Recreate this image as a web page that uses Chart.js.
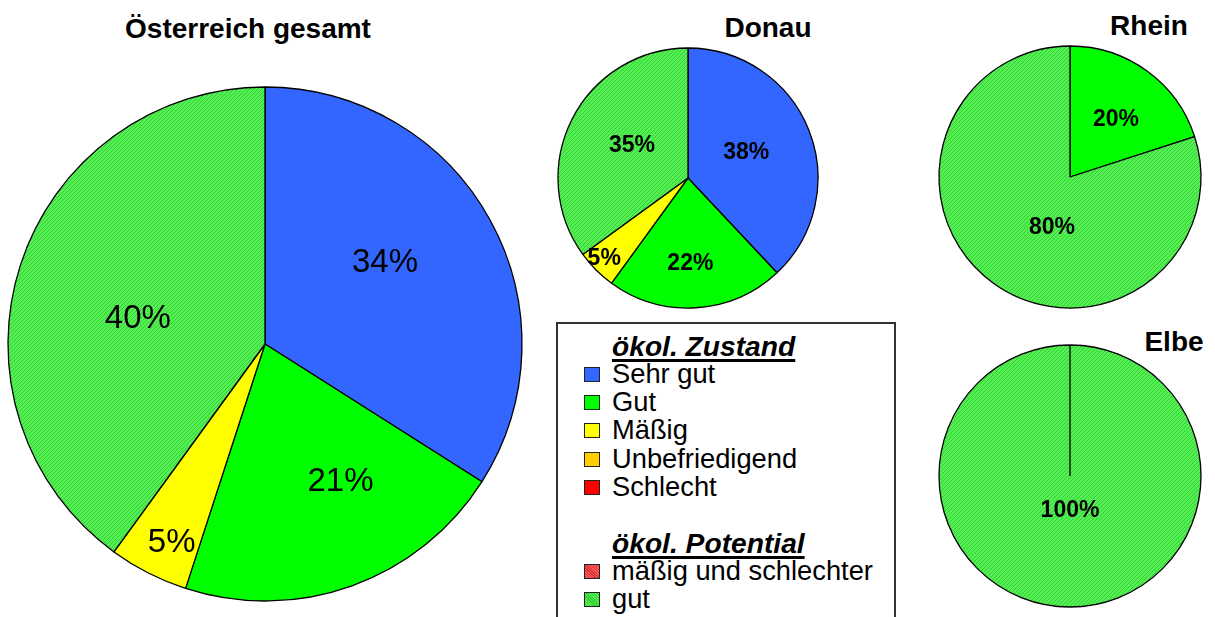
<!DOCTYPE html>
<html><head><meta charset="utf-8">
<script src="https://cdn.jsdelivr.net/npm/chart.js@4/dist/chart.umd.min.js"></script>
<style>
html,body{margin:0;padding:0;background:#fff;width:1215px;height:617px;overflow:hidden;font-family:"Liberation Sans",Arial,sans-serif;}
canvas{position:absolute;}
.title{position:absolute;font-weight:bold;font-size:28px;line-height:32px;color:#000;white-space:nowrap;transform:translate(-50%,-50%);}
#legend{position:absolute;left:556px;top:322px;width:336px;height:310px;border:2px solid #333;box-sizing:content-box;}
.row{position:absolute;left:54px;font-size:27.3px;line-height:28px;white-space:nowrap;color:#000;}
.head{font-size:28.2px;font-weight:bold;font-style:italic;text-decoration:underline;text-decoration-thickness:3px;text-underline-offset:3px;}
.sw{position:absolute;left:-28px;top:7px;width:16px;height:15px;border:1px solid #222;box-sizing:border-box;}
</style></head><body>
<div class="title" style="left:248px;top:29px">Österreich gesamt</div>
<div class="title" style="left:768px;top:28px">Donau</div>
<div class="title" style="left:1149px;top:26px">Rhein</div>
<div class="title" style="left:1174px;top:342px">Elbe</div>
<canvas id="c1" width="530" height="530" style="left:0px;top:79px"></canvas>
<canvas id="c2" width="270" height="270" style="left:553px;top:43px"></canvas>
<canvas id="c3" width="270" height="270" style="left:935px;top:42px"></canvas>
<canvas id="c4" width="270" height="270" style="left:935px;top:341px"></canvas>
<div id="legend"></div>
<script>
// ---- data ----
const legendZustand = ["Sehr gut", "Gut", "Mäßig", "Unbefriedigend", "Schlecht"];
const legendPotential = ["mäßig und schlechter", "gut"];

const oesterreichLabels = ["Sehr gut", "Gut", "Mäßig", "gut (Potential)"];
const oesterreichValues = [34, 21, 5, 40];

const donauLabels = ["Sehr gut", "Gut", "Mäßig", "gut (Potential)"];
const donauValues = [38, 22, 5, 35];

const rheinLabels = ["Gut", "gut (Potential)"];
const rheinValues = [20, 80];

const elbeLabels = ["gut (Potential)"];
const elbeValues = [100];

// ---- styles ----
function hatch(base, dark) {
  const c = document.createElement('canvas'); c.width = 4; c.height = 4;
  const x = c.getContext('2d');
  x.fillStyle = base; x.fillRect(0,0,4,4);
  x.fillStyle = dark;
  for (let i=0;i<4;i++){ x.fillRect(i,(3-i),1,1); }
  return x.createPattern(c,'repeat');
}
const greenHatch = hatch('#55ef55', '#33d233');
const colorMap = {
  "Sehr gut": "#3366ff",
  "Gut": "#00ff00",
  "Mäßig": "#ffff00",
  "Unbefriedigend": "#ffcc00",
  "Schlecht": "#ff0000",
  "gut (Potential)": greenHatch
};

const labelPlugin = {
  id: 'sliceLabels',
  afterDatasetsDraw(chart, args, opts) {
    const ctx = chart.ctx;
    const meta = chart.getDatasetMeta(0);
    const ds = chart.data.datasets[0];
    const total = ds.data.reduce((a,b)=>a+b,0);
    ctx.save();
    ctx.font = opts.font;
    ctx.fillStyle = '#000';
    ctx.textAlign = 'center';
    ctx.textBaseline = 'middle';
    meta.data.forEach((arc, i) => {
      const p = arc.getProps(['x','y','startAngle','endAngle','outerRadius'], true);
      const mid = (p.startAngle + p.endAngle)/2 + (opts.angleShift ? opts.angleShift[i] : 0) * Math.PI/180;
      const r = p.outerRadius * opts.radii[i];
      const txt = Math.round(ds.data[i] / total * 100) + '%';
      ctx.fillText(txt, p.x + Math.cos(mid)*r, p.y + Math.sin(mid)*r + 1);
    });
    ctx.restore();
  }
};

function makePie(id, labels, values, radius, font, radii, angleShift) {
  new Chart(document.getElementById(id), {
    type: 'pie',
    data: { labels: labels, datasets: [{ data: values,
      backgroundColor: labels.map(l => colorMap[l]),
      borderColor: '#000', borderWidth: 1.3, radius: radius }] },
    options: {
      responsive: false, animation: false,
      layout: { padding: 0 },
      plugins: { legend: { display: false }, tooltip: { enabled: false },
        sliceLabels: { font: font, radii: radii, angleShift: angleShift } }
    },
    plugins: [labelPlugin]
  });
}

makePie('c1', oesterreichLabels, oesterreichValues, 257, '33px "Liberation Sans", Arial, sans-serif', [0.565, 0.61, 0.85, 0.505], [-5.5, -9, -1.7, -6.4]);
makePie('c2', donauLabels, donauValues, 130, 'bold 23px "Liberation Sans", Arial, sans-serif', [0.49, 0.65, 0.89, 0.5], [-2.5, 2, 1.4, 3.5]);
makePie('c3', rheinLabels, rheinValues, 131, 'bold 23px "Liberation Sans", Arial, sans-serif', [0.565, 0.405], [2.4, -16.2]);
makePie('c4', elbeLabels, elbeValues, 131, 'bold 23px "Liberation Sans", Arial, sans-serif', [0.26], [0]);

// ---- legend (HTML) ----
const legend = document.getElementById('legend');
const swatchCss = {
  "Sehr gut": "background:#3366ff",
  "Gut": "background:#00ff00",
  "Mäßig": "background:#ffff00",
  "Unbefriedigend": "background:#ffcc00",
  "Schlecht": "background:#ff0000",
  "mäßig und schlechter": "background:repeating-linear-gradient(45deg,#ff5a5a 0 1px,#d83030 1px 2px)",
  "gut": "background:repeating-linear-gradient(45deg,#55ee55 0 1px,#2fcf2f 1px 2px)"
};
let y = 8;
const step = 28.15;
function addRow(text, isHead) {
  const d = document.createElement('div');
  d.className = 'row' + (isHead ? ' head' : '');
  d.style.top = y + 'px';
  d.textContent = text;
  if (!isHead) {
    const s = document.createElement('span');
    s.className = 'sw'; s.style.cssText = swatchCss[text];
    d.appendChild(s);
  }
  legend.appendChild(d);
  y += step;
}
addRow("ökol. Zustand", true);
legendZustand.forEach(t => addRow(t, false));
y += step;
addRow("ökol. Potential", true);
legendPotential.forEach(t => addRow(t, false));
</script>
</body></html>
